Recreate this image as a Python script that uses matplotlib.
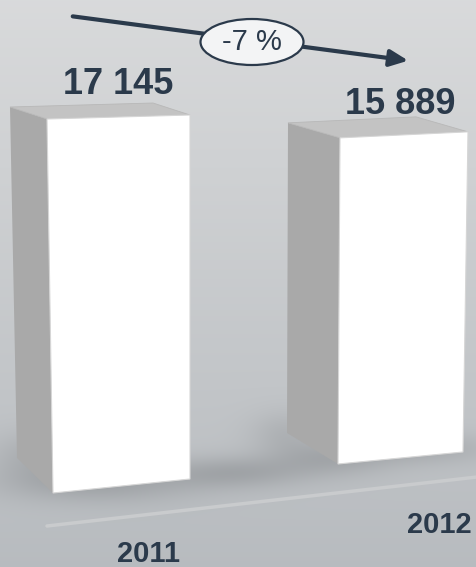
"""
plot.py
Two 3D-looking boxes comparing 2011 and 2012, with a -7 % trend arrow.
"""

import numpy as np
import matplotlib
matplotlib.use("Agg")
import matplotlib.pyplot as plt
from matplotlib.patches import Polygon, Ellipse, FancyArrowPatch

# ── Data ──────────────────────────────────────────────────────────────────────
years = ["2011", "2012"]
values = [17145, 15889]
value_labels = ["17 145", "15 889"]
change_label = "-7 %"

# ── Layout (pixel space, y pointing down) ─────────────────────────────────────
W, H = 477, 567
PX_PER_UNIT = 374 / 17145
depth_scale = [1.0, 0.941]               # far box is drawn a bit smaller
front_bottom = [((53, 493), (190, 479)), ((338, 464), (463, 452))]
front_top_x = [(47, 190), (340, 468)]
top_tilt = [4, 6]
depth_top = [(-37, -12), (-52, -15)]
depth_bottom = [(-36, -35), (-51, -31)]
value_pos = [(118, 84), (400, 104)]
year_pos = [(149, 554), (439, 525)]

NAVY = "#2b3a4b"
SIDE = "#a9a9a9"
TOP = "#c3c3c3"


def background():
    yy, xx = np.mgrid[0:H, 0:W].astype(float)
    t = yy / H
    top = np.array([0.85, 0.855, 0.86])
    bot = np.array([0.72, 0.735, 0.75])
    img = top[None, None, :] * (1 - t[..., None]) + bot[None, None, :] * t[..., None]

    # soft shadows behind the boxes
    shade = np.zeros((H, W))
    blobs = [(100, 482, 95, 20, 0.11), (235, 472, 70, 16, 0.10),
             (330, 458, 60, 18, 0.09), (420, 448, 75, 16, 0.08),
             (35, 455, 45, 25, 0.07), (285, 432, 35, 22, 0.06)]
    for cx, cy, sx, sy, a in blobs:
        shade += a * np.exp(-(((xx - cx) / sx) ** 2 + ((yy - cy) / sy) ** 2))
    img = img - shade[..., None]
    return np.clip(img, 0, 1)


fig = plt.figure(figsize=(W / 100, H / 100), dpi=100)
ax = fig.add_axes([0, 0, 1, 1])
ax.set_xlim(0, W)
ax.set_ylim(H, 0)
ax.axis("off")

ax.imshow(background(), extent=(0, W, H, 0), zorder=0, aspect="auto")

# floor line
ax.plot([47, W], [526, 477], color="#c9cbcd", lw=2.5, zorder=1,
        solid_capstyle="round")

# ── Boxes ─────────────────────────────────────────────────────────────────────
for i, v in enumerate(values):
    h = v * PX_PER_UNIT * depth_scale[i]
    (blx, bly), (brx, bry) = front_bottom[i]
    tlx, trx = front_top_x[i]
    tl = (tlx, bly - h)
    tr = (trx, bly - h - top_tilt[i])
    bl = (blx, bly)
    br = (brx, bry)

    dtx, dty = depth_top[i]
    dbx, dby = depth_bottom[i]
    back_tl = (tl[0] + dtx, tl[1] + dty)
    back_tr = (tr[0] + dtx, tr[1] + dty)
    back_bl = (bl[0] + dbx, bl[1] + dby)

    ax.add_patch(Polygon([back_tl, tl, bl, back_bl], closed=True,
                         facecolor=SIDE, edgecolor="none", zorder=2))
    ax.add_patch(Polygon([back_tl, back_tr, tr, tl], closed=True,
                         facecolor=TOP, edgecolor="#b8b8b8", lw=0.6, zorder=2))
    ax.add_patch(Polygon([tl, tr, br, bl], closed=True,
                         facecolor="white", edgecolor="#d6d6d6", lw=0.8, zorder=3))

    ax.text(*value_pos[i], value_labels[i], ha="center", va="center",
            fontsize=26, fontweight="bold", color=NAVY,
            family=["Liberation Sans", "DejaVu Sans"], zorder=5)
    ax.text(*year_pos[i], years[i], ha="center", va="center",
            fontsize=21, fontweight="bold", color=NAVY,
            family=["Liberation Sans", "DejaVu Sans"], zorder=5)

# ── Trend arrow ───────────────────────────────────────────────────────────────
arrow = FancyArrowPatch((70, 16), (411, 61), arrowstyle="-|>,head_length=11,head_width=5",
                        mutation_scale=1, color=NAVY, lw=3, zorder=4)
ax.add_patch(arrow)
ax.add_patch(Ellipse((252, 42), 103, 46, facecolor="#f3f4f5",
                     edgecolor=NAVY, lw=1.6, zorder=5))
ax.text(252, 42, change_label, ha="center", va="center", fontsize=21,
        color=NAVY, family=["Liberation Sans", "DejaVu Sans"], zorder=6)

fig.savefig("out.png", dpi=100)
